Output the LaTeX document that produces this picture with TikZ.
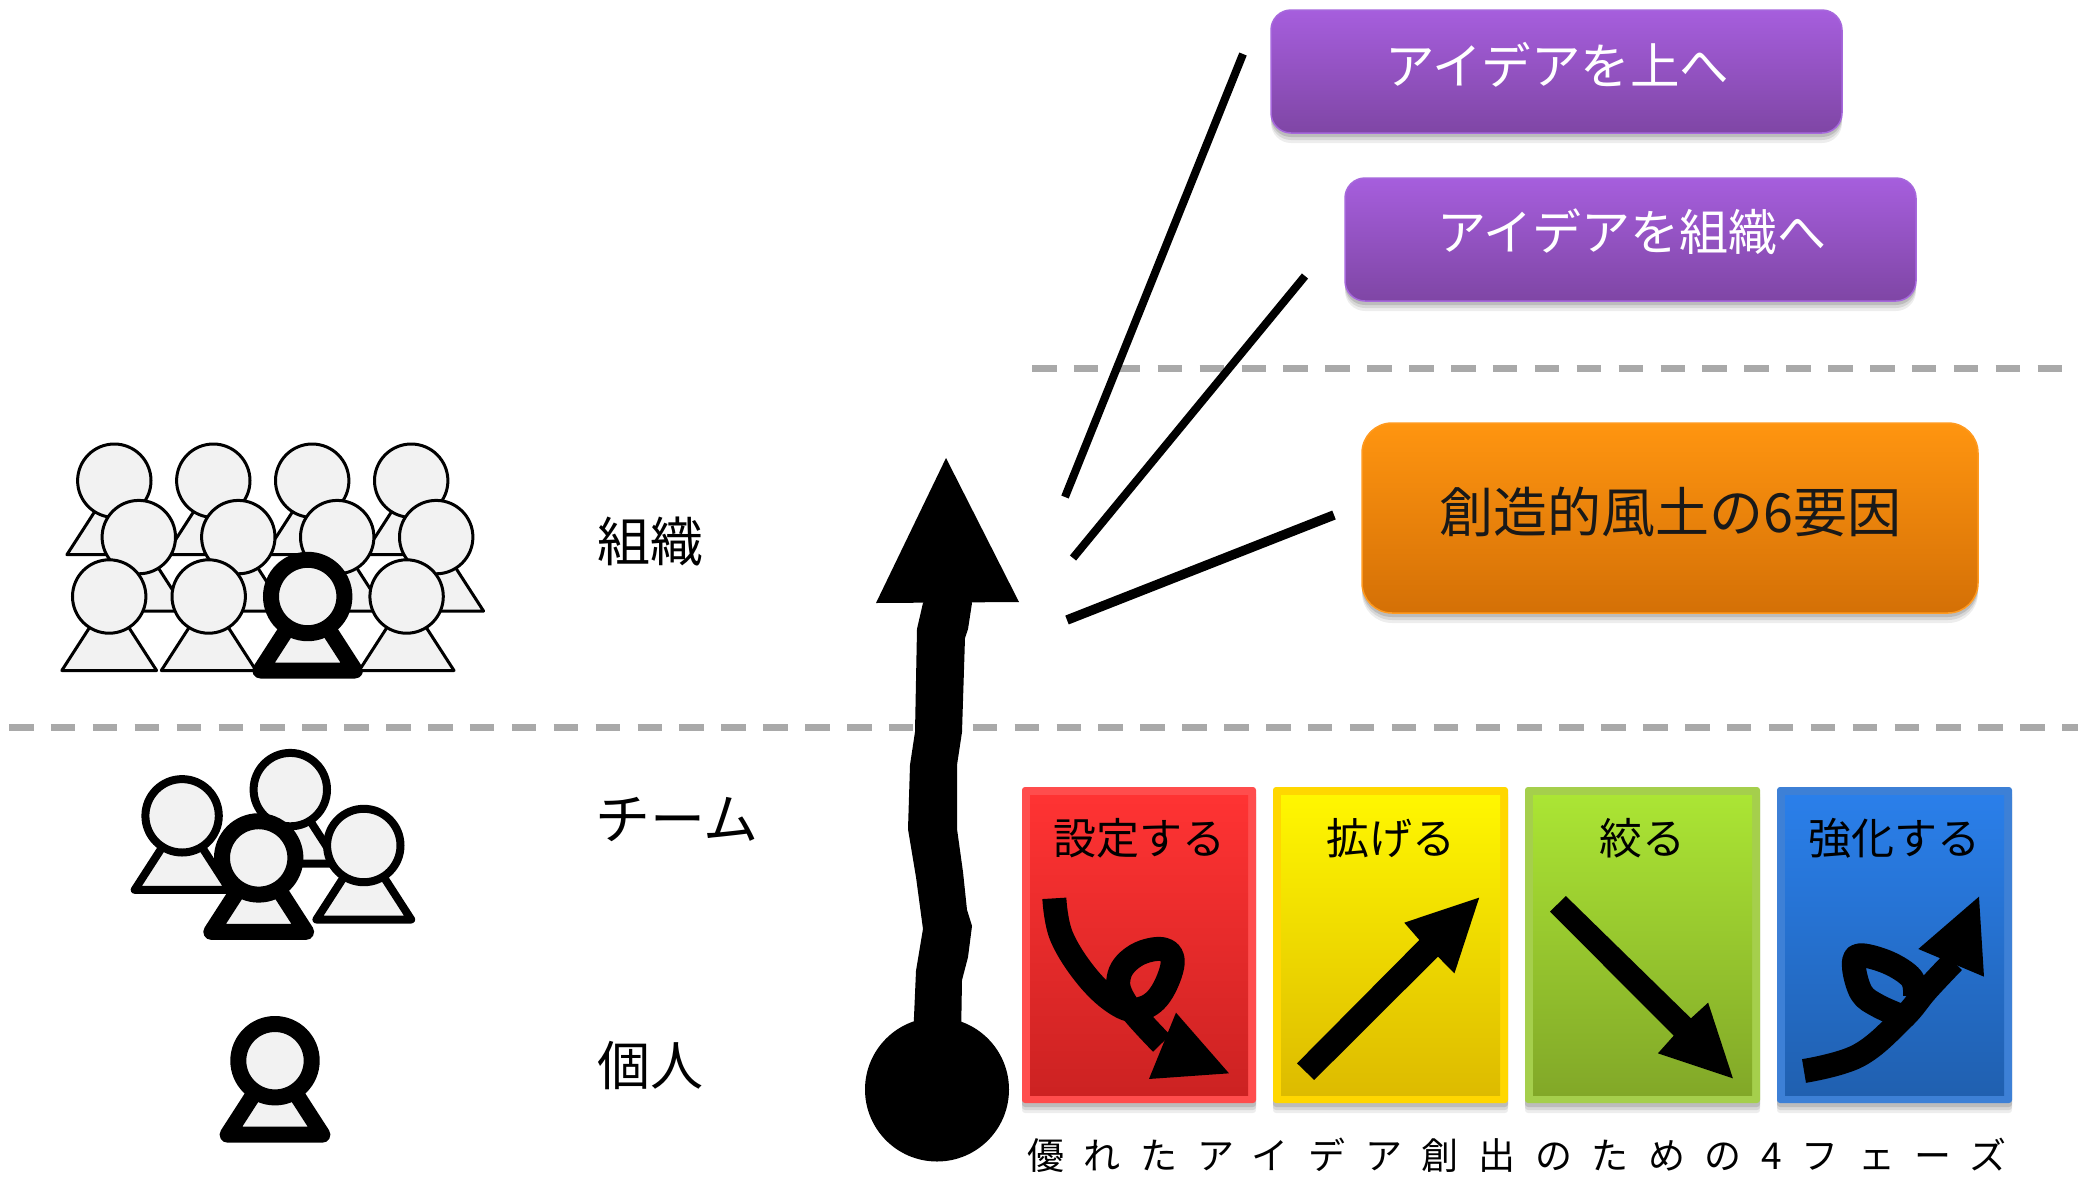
\documentclass[tikz,border=0pt]{standalone}
\usepackage{fontspec}
\setmainfont{Noto Sans CJK JP}
\newfontfamily\spacedcjk[LetterSpace=53]{Noto Sans CJK JP}
\newcommand{\fsz}[1]{\fontsize{#1}{#1}\selectfont}
\definecolor{headfill}{HTML}{F2F2F2}
\definecolor{dashgray}{HTML}{A9A9A9}
\definecolor{pedge}{HTML}{A668DC}\definecolor{ptop}{HTML}{A65EDD}\definecolor{pbot}{HTML}{7F46A5}
\definecolor{oedge}{HTML}{FF9A20}\definecolor{otop}{HTML}{FF9510}\definecolor{obot}{HTML}{D47006}
\definecolor{redB}{HTML}{FF4D4D}\definecolor{redT}{HTML}{FF3333}\definecolor{redE}{HTML}{CC2222}
\definecolor{yelB}{HTML}{FFD700}\definecolor{yelT}{HTML}{FFF700}\definecolor{yelE}{HTML}{DDBB00}
\definecolor{grnB}{HTML}{A5CF4C}\definecolor{grnT}{HTML}{ABE534}\definecolor{grnE}{HTML}{82A828}
\definecolor{bluB}{HTML}{3D80D6}\definecolor{bluT}{HTML}{2A7FEA}\definecolor{bluE}{HTML}{2060B0}
\tikzset{
  softshadow/.style={
    preaction={fill=black,fill opacity=.07,draw=none,transform canvas={yshift=-10pt}},
    preaction={fill=black,fill opacity=.09,draw=none,transform canvas={yshift=-7pt}},
    preaction={fill=black,fill opacity=.12,draw=none,transform canvas={yshift=-4pt}}},
  levelrule/.style={draw=dashgray,line width=6.5pt,dash pattern=on 24.5pt off 17.4pt},
  leader/.style={draw=black,line width=8pt},
  levellabel/.style={anchor=west,inner sep=0pt,font=\fsz{53}},
  ideabox/.style={rounded corners=20pt,minimum height=123pt,inner sep=0pt,outer sep=0pt,softshadow,draw=#1,line width=1.5pt},
  phaselabel/.style={inner sep=0pt,font=\fsz{43}},
  ink/.style={draw=black,line width=24pt,line join=round},
  headcircle/.style={draw=black,fill=headfill},
}
% \person{cx}{cy}{line width}
\newcommand{\person}[3]{%
  \draw[draw=black,fill=headfill,line width=#3,line join=round]
    (#1-47.4,#2+74) -- (#1-19,#2+30) -- (#1+19,#2+30) -- (#1+47.4,#2+74) -- cycle;
  \draw[headcircle,line width=#3] (#1,#2) circle[radius=36.7];
}
% \phase{name}{x0}{x1}{border}{top}{bottom}{text}
\newcommand{\phase}[7]{%
  \fill[#4,rounded corners=3pt,softshadow] (#2,787) rectangle (#3,1103);
  \shade[top color=#5,bottom color=#6] (#2+8,795) rectangle (#3-8,1095);
  \node[phaselabel] (#1) at ({(#2+#3)/2},838) {#7};
}
\begin{document}
\begin{tikzpicture}[x=1pt,y=-1pt]
\useasboundingbox[fill=white] (0,0) rectangle (2078,1176);
% level rules
\coordinate (ruleAa) at (1032,368.5); \coordinate (ruleAb) at (2065,368.5);
\coordinate (ruleBa) at (9,727.5); \coordinate (ruleBb) at (2078,727.5);
\draw[levelrule] (ruleAa) -- (ruleAb);
\draw[levelrule] (ruleBa) -- (ruleBb);
% organisation
\foreach \px in {114.3,213.3,312.2,411.2} {\person{\px}{480.7}{3pt}}
\foreach \px in {138.8,238.3,337.2,436.2} {\person{\px}{537.1}{3pt}}
\foreach \px in {109.2,208.7} {\person{\px}{596.5}{3pt}}
\person{307.7}{596.5}{16pt}
\person{406.6}{596.5}{3pt}
% team
\person{290.3}{789.6}{8pt}
\person{182.1}{815.8}{8pt}
\person{363.8}{845.5}{8pt}
\person{258.7}{857.9}{16pt}
% individual
\person{275}{1060.7}{16pt}
% labels
\node[levellabel] (lblOrg) at (597,542) {組織};
\node[levellabel,font=\fsz{55}] (lblTeam) at (595,819) {チーム};
\node[levellabel] (lblOne) at (597,1066) {個人};
% growth arrow
\fill[black] (937,1089.5) circle[radius=72];
\fill[black] (946,458) -- (1019,602) -- (876,603) -- cycle;
\draw[black,fill=black,line width=2pt,line join=round] (971,603) -- (967,629) -- (964,638) -- (961,732)
  -- (956,765) -- (956,829) -- (962,872) -- (966,910) -- (971,926) -- (967,957) -- (961,980)
  -- (960,1040) -- (914,1040) -- (917,971) -- (924,929) -- (917,877) -- (909,829) -- (911,765)
  -- (916,732) -- (918,629) -- (924,603) -- cycle;
% idea boxes
\node[ideabox=pedge,minimum width=571pt,top color=ptop,bottom color=pbot] (boxUp) at (1556.5,71.5) {};
\node[ideabox=pedge,minimum width=571pt,top color=ptop,bottom color=pbot] (boxOrg) at (1630.5,239.5) {};
\node[ideabox=oedge,minimum width=616pt,minimum height=190pt,rounded corners=30pt,top color=otop,bottom color=obot] (boxClimate) at (1670,518) {};
\node[text=white,font=\fsz{49.5},inner sep=0pt] (txtUp) at (1557,65) {アイデアを上へ};
\node[text=white,font=\fsz{49},inner sep=0pt] (txtOrg) at (1632,232) {アイデアを組織へ};
\node[text=black!90,font=\fsz{54},inner sep=0pt] (txtClimate) at (1670,512) {創造的風土の6要因};
% leaders
\coordinate (leadAa) at (1243,54); \coordinate (leadAb) at (1065,497);
\coordinate (leadBa) at (1305,276); \coordinate (leadBb) at (1073,558);
\coordinate (leadCa) at (1334,515); \coordinate (leadCb) at (1067,620);
\draw[leader] (leadAa) -- (leadAb);
\draw[leader] (leadBa) -- (leadBb);
\draw[leader,line width=9.5pt] (leadCa) -- (leadCb);
% phases
\phase{phSet}{1022}{1256}{redB}{redT}{redE}{設定する}
\phase{phWide}{1273}{1508}{yelB}{yelT}{yelE}{拡げる}
\phase{phNarrow}{1525}{1760}{grnB}{grnT}{grnE}{絞る}
\phase{phBoost}{1777}{2012}{bluB}{bluT}{bluE}{強化する}
\begin{scope}[shift={(1000,770)},x=0.6875pt,y=-0.3333pt]
  % yellow
  \fill[black] (432,880) -- (610,510) -- (588,458) -- (697,383) -- (661,610) -- (637,560) -- (457,930) -- cycle;
  % green
  \fill[black] (823,378) -- (1005,745) -- (1030,698) -- (1066,925) -- (957,850) -- (980,797) -- (800,425) -- cycle;
\end{scope}
\begin{scope}[shift={(1030,880)},x=0.3333pt,y=-0.3333pt]
  % red
  \draw[ink] plot[smooth,tension=.65] coordinates {(73,55) (95,170) (175,295) (265,375) (330,387) (390,345) (428,250) (400,208) (320,225) (268,285) (285,365) (395,490)};
  \fill[black] (438,398) -- (597,580) -- (357,597) -- cycle;
\end{scope}
\begin{scope}[shift={(1780,880)},x=0.3333pt,y=-0.3333pt]
  % blue
  \draw[ink] plot[smooth,tension=.65] coordinates {(72,573) (235,527) (368,415) (440,330) (520,245)};
  \draw[ink] plot[smooth,tension=.6] coordinates {(368,410) (295,378) (245,340) (222,262) (238,226) (325,248) (395,295) (405,350)};
  \fill[black] (597,50) -- (612,290) -- (415,207) -- cycle;
\end{scope}
\node[inner sep=0pt,font=\spacedcjk\fsz{37}] (caption) at (1517,1155) {優れたアイデア創出のための4フェーズ};
\end{tikzpicture}
\end{document}
